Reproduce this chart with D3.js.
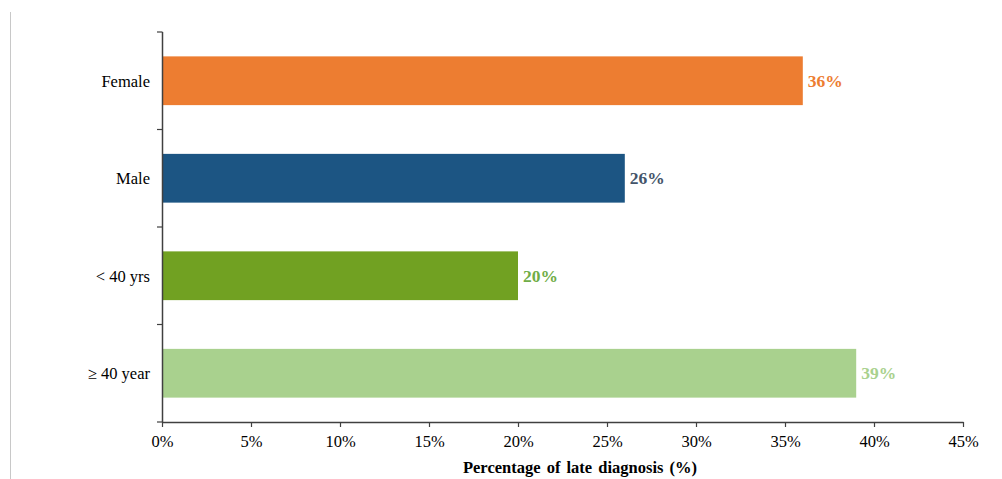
<!DOCTYPE html>
<html><head><meta charset="utf-8">
<script src="https://cdn.jsdelivr.net/npm/d3@7"></script>
<style>body{margin:0;background:#fff}svg{display:block}</style>
</head><body>
<svg id="c" width="1002" height="479"></svg>
<script>
const categories = ["Female", "Male", "< 40 yrs", "\u2265 40 year"];
const values = [36, 26, 20, 39];
const barColors = ["#ED7D31", "#1C5583", "#71A122", "#A9D18E"];
const labelColors = ["#ED7D31", "#44546A", "#70AD47", "#A9D18E"];
const xTicks = [0, 5, 10, 15, 20, 25, 30, 35, 40, 45];

const svg = d3.select("#c");
const font = "'Liberation Serif','Times New Roman',serif";

svg.append("line").attr("x1",10.5).attr("x2",10.5).attr("y1",12).attr("y2",479)
  .attr("stroke","#c8c8c8").attr("stroke-width",1);

const plotTop = 32, plotBottom = 422;
const x = d3.scaleLinear().domain([0,45]).range([162,963]);
const y = d3.scaleBand().domain(categories).range([plotTop,plotBottom]).paddingInner(0.5).paddingOuter(0.25);

// bars
svg.selectAll("rect.bar").data(categories).join("rect")
  .attr("class","bar")
  .attr("x", x(0))
  .attr("y", d => y(d))
  .attr("width", (d,i) => x(values[i]) - x(0))
  .attr("height", y.bandwidth())
  .attr("fill", (d,i) => barColors[i]);

// value labels
svg.selectAll("text.val").data(categories).join("text")
  .attr("class","val")
  .attr("x", (d,i) => x(values[i]) + 5)
  .attr("y", d => y(d) + y.bandwidth()/2)
  .attr("dy","0.35em")
  .attr("font-family", font).attr("font-size",17.5).attr("font-weight","bold")
  .attr("fill", (d,i) => labelColors[i])
  .text((d,i) => values[i] + "%");

// x axis
const xAxis = svg.append("g").attr("transform","translate(0," + plotBottom + ")")
  .call(d3.axisBottom(x).tickValues(xTicks).tickFormat(d => d + "%").tickSize(5).tickSizeOuter(0));
xAxis.select(".domain").attr("stroke","#404040").attr("stroke-width",1.5);
xAxis.selectAll(".tick line").attr("stroke","#404040").attr("stroke-width",1.2);
xAxis.selectAll(".tick text").attr("font-family",font).attr("font-size",16.5).attr("fill","#000").attr("dy","1.05em");

// y axis: ticks at band boundaries
const boundaries = d3.range(categories.length + 1).map(i => plotTop + i * (plotBottom - plotTop) / categories.length);
const yAx = svg.append("g");
yAx.append("line").attr("x1",162.5).attr("x2",162.5).attr("y1",plotTop).attr("y2",plotBottom)
  .attr("stroke","#404040").attr("stroke-width",1.5);
yAx.selectAll("line.tk").data(boundaries).join("line").attr("class","tk")
  .attr("x1",157).attr("x2",162.5).attr("y1",d=>d).attr("y2",d=>d)
  .attr("stroke","#404040").attr("stroke-width",1.2);
yAx.selectAll("text").data(categories).join("text")
  .attr("x",150).attr("y",d => y(d) + y.bandwidth()/2).attr("dy","0.35em")
  .attr("text-anchor","end").attr("font-family",font).attr("font-size",16.5).attr("fill","#000")
  .text(d => d);

// x title
svg.append("text").attr("x",580).attr("y",473).attr("text-anchor","middle")
  .attr("font-family",font).attr("font-size",16.5).attr("font-weight","bold").attr("fill","#000")
  .attr("word-spacing","2px")
  .text("Percentage of late diagnosis (%)");
</script>
</body></html>
